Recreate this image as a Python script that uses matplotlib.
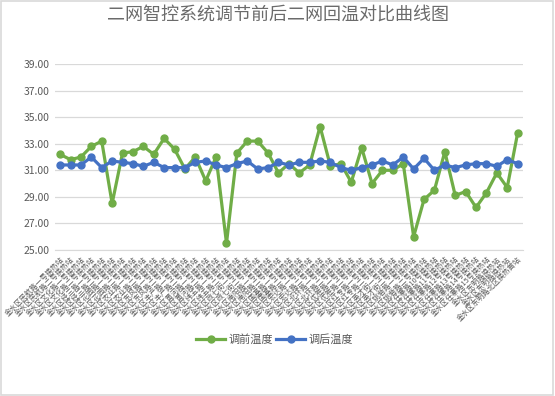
import matplotlib
matplotlib.use("Agg")
import matplotlib.pyplot as plt
from matplotlib.patches import Rectangle

plt.rcParams['font.family'] = ['Noto Sans CJK SC', 'DejaVu Sans']

# station names (x categories)
stations = [
    "金水区民航路一号换热站", "金水区民航路二号换热站", "金水区文化路一号换热站",
    "金水区文化路二号换热站", "金水区经三路一号换热站", "金水区经三路二号换热站",
    "金水区花园路一号换热站", "金水区花园路二号换热站", "金水区农业路一号换热站",
    "金水区农业路二号换热站", "金水区东风路一号换热站", "金水区东风路二号换热站",
    "金水区丰产路一号换热站", "金水区丰产路二号换热站", "金水区黄河路一号换热站",
    "金水区黄河路二号换热站", "金水区纬五路一号换热站", "金水区纬五路二号换热站",
    "金水区政七街一号换热站", "金水区政七街二号换热站", "金水区南阳路一号换热站",
    "金水区南阳路二号换热站", "金水区国基路一号换热站", "金水区国基路二号换热站",
    "金水区宏达路一号换热站", "金水区宏达路二号换热站", "金水区北环路一号换热站",
    "金水区北环路二号换热站", "金水区优胜路一号换热站", "金水区优胜路二号换热站",
    "金水区红专路一号换热站", "金水区红专路二号换热站", "金水区英才街一号换热站",
    "金水区英才街二号换热站", "金水区姚砦路一号换热站", "金水区姚砦路二号换热站",
    "金水区任寨路10号换热站", "金水区任寨路11号换热站", "金水区任寨路12号换热站",
    "金水区任寨路13号换热站", "金水区任寨路14号换热站", "金水区任寨路15号换热站",
    "金水区东明路换热站", "金水区东明路换热站", "金水区东明路北区换热首站",
]

before = [32.2, 31.8, 32.0, 32.8, 33.2, 28.5, 32.3, 32.4, 32.8, 32.2,
          33.4, 32.6, 31.1, 32.0, 30.2, 32.0, 25.5, 32.3, 33.2, 33.2,
          32.3, 30.8, 31.5, 30.8, 31.4, 34.3, 31.3, 31.5, 30.1, 32.7,
          30.0, 31.0, 31.0, 31.5, 26.0, 28.8, 29.5, 32.4, 29.1, 29.4,
          28.2, 29.3, 30.8, 29.7, 33.8]
after = [31.4, 31.4, 31.4, 32.0, 31.2, 31.7, 31.6, 31.5, 31.3, 31.6,
         31.2, 31.2, 31.2, 31.6, 31.7, 31.4, 31.2, 31.5, 31.7, 31.1,
         31.2, 31.6, 31.4, 31.6, 31.6, 31.7, 31.6, 31.2, 31.0, 31.2,
         31.4, 31.7, 31.4, 32.0, 31.1, 31.9, 31.0, 31.4, 31.2, 31.4,
         31.5, 31.5, 31.3, 31.8, 31.5]
yticks = [25, 27, 29, 31, 33, 35, 37, 39]

GREEN = "#70AD47"
BLUE = "#4472C4"
GRAY = "#595959"

fig = plt.figure(figsize=(5.55, 3.96), dpi=100)
fig.patches.append(Rectangle((0.002, 0.003), 0.995, 0.994, transform=fig.transFigure,
                             fill=False, edgecolor="#d9d9d9", linewidth=1.2))

ax = fig.add_axes([0.099, 0.369, 0.843, 0.469])
x = list(range(len(stations)))
ax.plot(x, before, color=GREEN, lw=2.3, marker="o", ms=5, label="调前温度", zorder=3)
ax.plot(x, after, color=BLUE, lw=2.3, marker="o", ms=5, label="调后温度", zorder=4)

ax.set_xlim(-0.5, len(stations) - 0.5)
ax.set_ylim(25, 39)
ax.set_yticks(yticks)
ax.set_yticklabels([f"{v:.2f}" for v in yticks], fontsize=7.5, color=GRAY)
ax.set_xticks(x)
ax.set_xticklabels(stations, rotation=45, ha="right", rotation_mode="anchor",
                   fontsize=5.2, color=GRAY)
ax.tick_params(axis="both", length=0, pad=4)
ax.grid(axis="y", color="#d9d9d9", lw=0.9)
ax.set_axisbelow(True)
for s in ["top", "right", "left"]:
    ax.spines[s].set_visible(False)
ax.spines["bottom"].set_color("#d9d9d9")

fig.text(0.5, 0.962, "二网智控系统调节前后二网回温对比曲线图", ha="center", va="center",
         fontsize=13, color="#6b6b6b", fontweight="light")
fig.legend(loc="center", bbox_to_anchor=(0.495, 0.142), ncol=2, frameon=False,
           fontsize=8, labelcolor=GRAY, handlelength=2.6, columnspacing=0.3,
           handletextpad=0.3)

fig.savefig("out.png", dpi=100)
